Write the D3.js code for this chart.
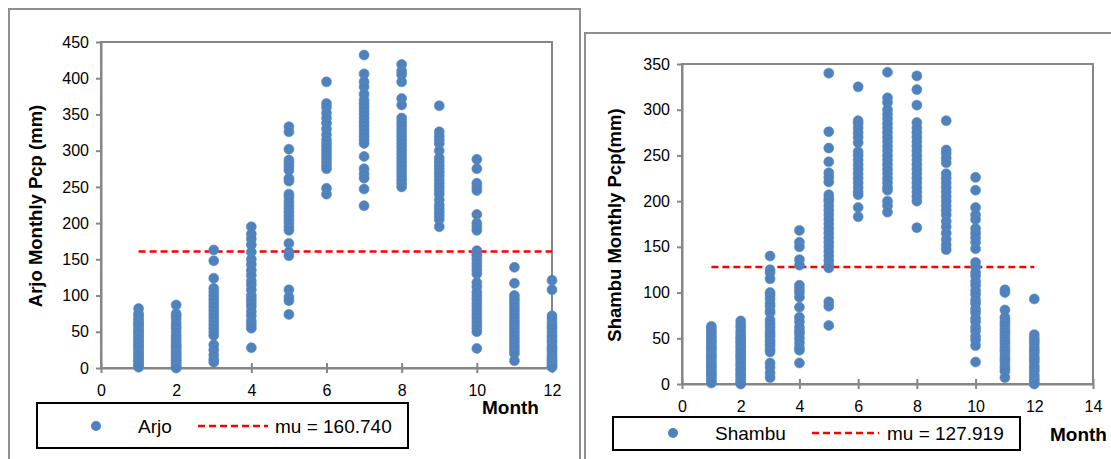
<!DOCTYPE html>
<html>
<head>
<meta charset="utf-8">
<script src="https://cdn.jsdelivr.net/npm/d3@7"></script>
<style>
  body { margin: 0; background: #fff; }
  svg { display: block; font-family: "Liberation Sans", Arial, sans-serif; }
</style>
</head>
<body>
<svg id="chart" width="1111" height="459"></svg>
<script>
// month numbers used as x values
const months = [1, 2, 3, 4, 5, 6, 7, 8, 9, 10, 11, 12];

// Arjo monthly precipitation (mm), one list per month
const arjoValues = [
  [82, 75, 72, 68, 65, 62, 60, 58, 55, 52, 50, 48, 45, 42, 40, 37, 35, 32, 30, 28, 25, 22, 20, 18, 15, 12, 10, 8, 5, 3, 1],
  [87, 75, 72, 68, 62, 58, 55, 50, 45, 42, 38, 35, 32, 30, 28, 25, 22, 20, 17, 15, 12, 10, 8, 5, 3, 1, 0],
  [163, 148, 124, 110, 105, 100, 95, 90, 85, 80, 75, 70, 65, 60, 55, 50, 45, 32, 25, 18, 12, 8],
  [195, 185, 178, 170, 160, 150, 143, 135, 128, 120, 115, 108, 100, 95, 90, 85, 78, 72, 65, 60, 55, 28],
  [333, 326, 302, 287, 283, 278, 273, 262, 258, 240, 236, 230, 225, 220, 215, 210, 205, 200, 195, 190, 172, 160, 155, 108, 98, 93, 74],
  [395, 365, 360, 352, 345, 338, 330, 322, 315, 310, 305, 300, 295, 290, 285, 280, 275, 248, 240],
  [432, 406, 395, 388, 378, 370, 365, 360, 355, 350, 345, 340, 335, 330, 325, 320, 315, 310, 292, 275, 268, 262, 247, 224],
  [419, 410, 405, 395, 372, 363, 345, 340, 335, 330, 325, 320, 315, 310, 305, 300, 295, 290, 285, 280, 275, 270, 265, 260, 255, 250],
  [362, 326, 320, 315, 310, 300, 290, 285, 280, 275, 270, 265, 260, 255, 250, 245, 240, 232, 225, 220, 215, 210, 205, 195],
  [288, 275, 255, 250, 245, 212, 200, 195, 190, 162, 158, 155, 150, 145, 140, 135, 130, 118, 112, 105, 100, 95, 90, 85, 80, 75, 70, 65, 60, 55, 50, 27],
  [139, 117, 100, 95, 90, 85, 80, 75, 70, 65, 60, 55, 50, 45, 40, 35, 30, 25, 20, 10],
  [121, 108, 72, 68, 62, 58, 55, 50, 45, 42, 38, 35, 30, 28, 25, 22, 18, 15, 12, 10, 8, 5, 3, 1]
];

// Shambu monthly precipitation (mm)
const shambuValues = [
  [63, 60, 57, 55, 52, 50, 47, 45, 42, 40, 38, 35, 32, 30, 28, 25, 22, 20, 18, 15, 12, 10, 8, 5, 3, 1],
  [69, 65, 62, 58, 55, 52, 50, 47, 45, 42, 40, 37, 35, 32, 30, 28, 25, 22, 20, 17, 15, 12, 10, 8, 5, 3, 1, 0],
  [140, 125, 122, 115, 100, 97, 93, 88, 85, 80, 78, 70, 66, 62, 58, 55, 52, 48, 45, 42, 38, 35, 23, 18, 12, 7],
  [168, 155, 150, 136, 130, 108, 104, 100, 95, 84, 73, 68, 62, 58, 55, 50, 45, 40, 37, 23],
  [340, 276, 258, 243, 231, 226, 221, 207, 203, 200, 195, 190, 185, 180, 175, 170, 165, 160, 155, 150, 145, 140, 135, 130, 127, 90, 85, 64],
  [325, 288, 285, 280, 275, 270, 264, 254, 250, 245, 240, 235, 230, 225, 220, 215, 210, 207, 193, 183],
  [341, 313, 308, 300, 295, 290, 285, 280, 275, 270, 265, 260, 255, 250, 245, 240, 235, 230, 225, 220, 215, 212, 200, 195, 188],
  [337, 322, 305, 286, 280, 275, 270, 265, 260, 255, 250, 245, 240, 235, 230, 225, 220, 215, 210, 205, 200, 171],
  [288, 256, 252, 247, 242, 230, 225, 220, 215, 210, 205, 200, 195, 190, 185, 178, 172, 165, 158, 152, 147],
  [226, 212, 193, 185, 180, 170, 165, 160, 155, 148, 133, 128, 122, 118, 112, 108, 102, 98, 92, 88, 82, 78, 72, 68, 62, 58, 52, 48, 42, 24],
  [103, 100, 81, 73, 70, 67, 64, 60, 57, 54, 50, 47, 44, 40, 37, 34, 30, 27, 24, 20, 17, 14, 7],
  [93, 54, 50, 47, 44, 40, 37, 34, 30, 27, 24, 20, 17, 14, 10, 7, 4, 1, 0]
];

const arjoMu = 160.740;
const shambuMu = 127.919;
const muRange = [1, 12];

const arjoYTicks = d3.range(0, 451, 50);
const shambuYTicks = d3.range(0, 351, 50);
const arjoXTicks = d3.range(0, 13, 2);
const shambuXTicks = d3.range(0, 15, 2);

const dotFill = "#4f81bd";
const axisGray = "#868686";

const svg = d3.select("#chart");

// flatten month lists into points
function toPoints(values) {
  const pts = [];
  values.forEach((list, i) => {
    list.forEach((v) => pts.push({ month: months[i], value: v }));
  });
  return pts;
}

function drawPanel(opt) {
  const g = svg.append("g");

  // outer chart frame
  g.append("rect")
    .attr("x", opt.frame[0])
    .attr("y", opt.frame[1])
    .attr("width", opt.frame[2])
    .attr("height", opt.frame[3])
    .attr("fill", "none")
    .attr("stroke", "#8f8f8f")
    .attr("stroke-width", 2);

  const x = d3.scaleLinear().domain(opt.xDomain).range(opt.xRange);
  const y = d3.scaleLinear().domain(opt.yDomain).range(opt.yRange);

  // plot area border
  g.append("rect")
    .attr("x", opt.xRange[0])
    .attr("y", opt.yRange[1])
    .attr("width", opt.xRange[1] - opt.xRange[0])
    .attr("height", opt.yRange[0] - opt.yRange[1])
    .attr("fill", "none")
    .attr("stroke", axisGray)
    .attr("stroke-width", 2);

  const yAxis = g.append("g")
    .attr("transform", `translate(${opt.xRange[0]},0)`)
    .call(d3.axisLeft(y).tickValues(opt.yTicks).tickSize(5).tickSizeOuter(0).tickPadding(7));

  const xAxis = g.append("g")
    .attr("transform", `translate(0,${opt.yRange[0]})`)
    .call(d3.axisBottom(x).tickValues(opt.xTicks).tickSize(5).tickSizeOuter(0).tickPadding(12));

  // cross ticks on the x axis
  xAxis.selectAll(".tick line").attr("y1", -5);

  [xAxis, yAxis].forEach((a) => {
    a.select(".domain").attr("stroke", axisGray).attr("stroke-width", 2);
    a.selectAll(".tick line").attr("stroke", axisGray).attr("stroke-width", 2);
    a.selectAll(".tick text")
      .attr("fill", "#000")
      .style("font-size", "16px")
      .style("font-family", "'Liberation Sans', Arial, sans-serif");
  });

  // mean line
  g.append("line")
    .attr("x1", x(muRange[0]))
    .attr("x2", x(muRange[1]))
    .attr("y1", y(opt.mu))
    .attr("y2", y(opt.mu))
    .attr("stroke", "#ff0000")
    .attr("stroke-width", 2.5)
    .attr("stroke-dasharray", "7,4");

  // scatter points
  g.append("g")
    .selectAll("circle")
    .data(toPoints(opt.values))
    .enter()
    .append("circle")
    .attr("cx", (d) => x(d.month))
    .attr("cy", (d) => y(d.value))
    .attr("r", 5)
    .attr("fill", dotFill)
    .attr("stroke", "#5a8cc6")
    .attr("stroke-width", 0.6);

  // y axis title
  g.append("text")
    .attr("transform", `translate(${opt.yTitlePos[0]},${opt.yTitlePos[1]}) rotate(-90)`)
    .attr("text-anchor", "middle")
    .attr("dy", "0.35em")
    .style("font-size", "18.5px")
    .style("font-weight", "bold")
    .text(opt.yTitle);

  // x axis title
  g.append("text")
    .attr("x", opt.xTitlePos[0])
    .attr("y", opt.xTitlePos[1])
    .style("font-size", "19px")
    .style("font-weight", "bold")
    .text("Month");

  // legend
  const lg = opt.legend;
  g.append("rect")
    .attr("x", lg.box[0])
    .attr("y", lg.box[1])
    .attr("width", lg.box[2])
    .attr("height", lg.box[3])
    .attr("fill", "#fff")
    .attr("stroke", "#000")
    .attr("stroke-width", 2);

  g.append("circle")
    .attr("cx", lg.dotX)
    .attr("cy", lg.cy)
    .attr("r", 5)
    .attr("fill", dotFill);

  g.append("text")
    .attr("x", lg.nameX)
    .attr("y", lg.cy)
    .attr("dy", "0.35em")
    .style("font-size", "19px")
    .text(opt.name);

  g.append("line")
    .attr("x1", lg.dash[0])
    .attr("x2", lg.dash[1])
    .attr("y1", lg.cy)
    .attr("y2", lg.cy)
    .attr("stroke", "#ff0000")
    .attr("stroke-width", 2.5)
    .attr("stroke-dasharray", "7,4");

  g.append("text")
    .attr("x", lg.muX)
    .attr("y", lg.cy)
    .attr("dy", "0.35em")
    .style("font-size", "19px")
    .text(`mu = ${opt.mu.toFixed(3)}`);
}

drawPanel({
  name: "Arjo",
  values: arjoValues,
  mu: arjoMu,
  frame: [9, 9, 571, 470],
  xDomain: [0, 12],
  xRange: [101, 552],
  yDomain: [0, 450],
  yRange: [368, 42],
  xTicks: arjoXTicks,
  yTicks: arjoYTicks,
  yTitle: "Arjo Monthly Pcp (mm)",
  yTitlePos: [36, 206],
  xTitlePos: [482, 414],
  legend: { box: [37, 403, 371, 45], cy: 426, dotX: 96, nameX: 138, dash: [198, 268], muX: 275 }
});

drawPanel({
  name: "Shambu",
  values: shambuValues,
  mu: shambuMu,
  frame: [585, 33, 540, 450],
  xDomain: [0, 14],
  xRange: [682, 1093],
  yDomain: [0, 350],
  yRange: [384, 64],
  xTicks: shambuXTicks,
  yTicks: shambuYTicks,
  yTitle: "Shambu Monthly Pcp(mm)",
  yTitlePos: [615, 225],
  xTitlePos: [1050, 441],
  legend: { box: [613, 417, 407, 33], cy: 433, dotX: 673, nameX: 715, dash: [812, 879], muX: 887 }
});
</script>
</body>
</html>
